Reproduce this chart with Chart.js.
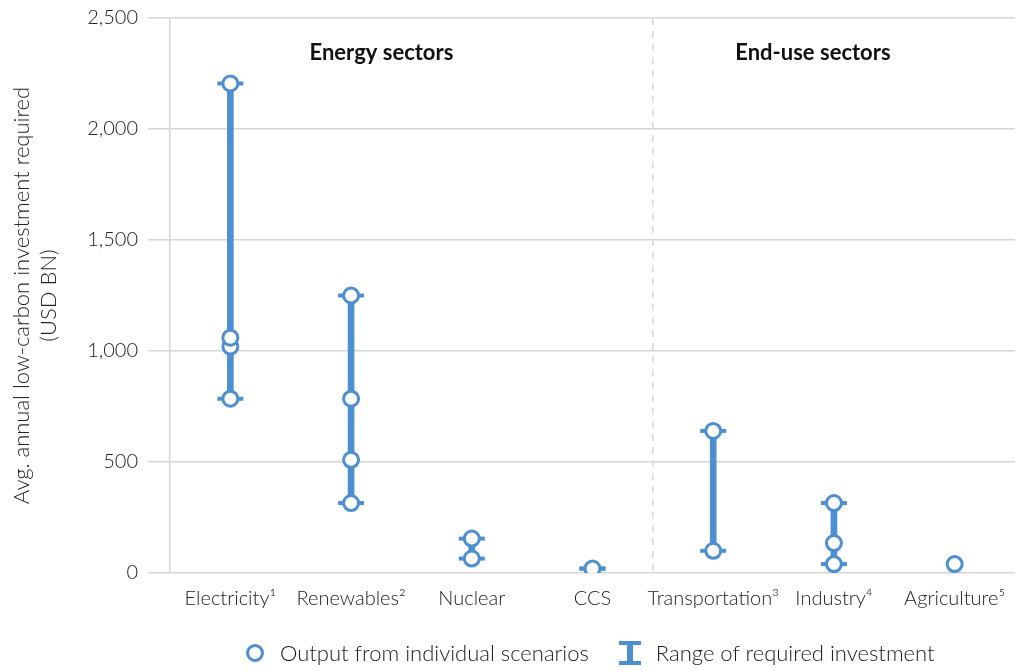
<!DOCTYPE html>
<html>
<head>
<meta charset="utf-8">
<script src="https://cdn.jsdelivr.net/npm/chart.js@4.4.1/dist/chart.umd.min.js"></script>
<style>
  body { margin: 0; background: #fff; }
  #wrap { position: relative; width: 1032px; height: 671px; }
  #legend {
    position: absolute; left: 246px; top: 639px;
    font-family: Lato, "Open Sans", sans-serif; font-weight: 300;
    font-size: 22px; color: #1a1a1a; display: flex; align-items: center;
  }
  .dot { width: 12px; height: 12px; border: 3px solid #4d8fd1; border-radius: 50%; background: #fff; margin-right: 16px; }
  .ibar { position: relative; width: 22px; height: 24px; margin: 0 15px 0 30px; }
  .ibar i { position: absolute; background: #4d8fd1; }
</style>
</head>
<body>
<div id="wrap">
  <canvas id="chart" width="1032" height="671"></canvas>
  <div id="legend">
    <span class="dot"></span><span>Output from individual scenarios</span>
    <span class="ibar"><i style="left:0;top:0;width:22px;height:4px"></i><i style="left:8px;top:0;width:6px;height:24px"></i><i style="left:0;top:20px;width:22px;height:4px"></i></span>
    <span>Range of required investment</span>
  </div>
</div>
<script>
// --- Data ---
const categories = ["Electricity¹", "Renewables²", "Nuclear", "CCS", "Transportation³", "Industry⁴", "Agriculture⁵"];
const rangeLow = [785, 315, 65, 20, 100, 40, null];
const rangeHigh = [2205, 1250, 155, 20, 640, 315, null];
const scenarioValues = [
  [785, 1020, 1060, 2205],
  [315, 510, 785, 1250],
  [65, 155],
  [20],
  [100, 640],
  [40, 135, 315],
  [40],
];
const yTicks = [0, 500, 1000, 1500, 2000, 2500];
const sectionLabels = ["Energy sectors", "End-use sectors"];

const blue = "#4d8fd1";
const fontFamily = "Lato, 'Open Sans', sans-serif";

const scenarioPoints = [];
scenarioValues.forEach((vals, i) => {
  vals.forEach((v) => scenarioPoints.push({ x: categories[i], y: v }));
});

// separator line + section titles
const sectionPlugin = {
  id: "sections",
  beforeDatasetsDraw(chart) {
    const { ctx, chartArea, scales } = chart;
    const x = scales.x;
    const sepX = (x.getPixelForValue(3) + x.getPixelForValue(4)) / 2;
    ctx.save();
    ctx.strokeStyle = "#d8d8d8";
    ctx.lineWidth = 1.5;
    ctx.setLineDash([7, 6]);
    ctx.beginPath();
    ctx.moveTo(sepX, chartArea.top);
    ctx.lineTo(sepX, chartArea.bottom);
    ctx.stroke();
    ctx.setLineDash([]);
    ctx.fillStyle = "#111";
    ctx.font = "bold 22px " + fontFamily;
    ctx.textAlign = "center";
    ctx.textBaseline = "middle";
    const left = (x.getPixelForValue(1) + x.getPixelForValue(2)) / 2 - 30;
    const right = x.getPixelForValue(5) - 21;
    ctx.fillText(sectionLabels[0], left, 53);
    ctx.fillText(sectionLabels[1], right, 53);
    ctx.restore();
  },
};

new Chart(document.getElementById("chart"), {
  type: "bar",
  data: {
    labels: categories,
    datasets: [
      {
        type: "line",
        label: "Output from individual scenarios",
        data: scenarioPoints,
        showLine: false,
        pointRadius: 7.5,
        pointBorderWidth: 3,
        pointBackgroundColor: "#fff",
        pointBorderColor: blue,
        order: 0,
      },
      {
        type: "line",
        label: "low cap",
        data: rangeLow,
        showLine: false,
        pointStyle: "line",
        pointRadius: 13,
        pointBorderWidth: 4,
        pointBorderColor: blue,
        order: 1,
      },
      {
        type: "line",
        label: "high cap",
        data: rangeHigh,
        showLine: false,
        pointStyle: "line",
        pointRadius: 13,
        pointBorderWidth: 4,
        pointBorderColor: blue,
        order: 1,
      },
      {
        label: "Range of required investment",
        data: rangeLow.map((v, i) => (v === null ? null : [v, rangeHigh[i]])),
        backgroundColor: blue,
        barThickness: 6,
        order: 2,
      },
    ],
  },
  options: {
    responsive: false,
    animation: false,
    layout: { padding: { top: 18, right: 0, bottom: 0, left: 0 } },
    plugins: {
      legend: { display: false },
      tooltip: { enabled: false },
    },
    scales: {
      x: {
        grid: { display: false, drawTicks: false },
        border: { display: false },
        ticks: {
          padding: 14,
          color: "#222",
          font: { family: fontFamily, size: 20, weight: 300 },
          maxRotation: 0,
          autoSkip: false,
        },
        afterFit: (scale) => { scale.height = 98; },
      },
      y: {
        min: 0,
        max: 2500,
        afterBuildTicks: (scale) => { scale.ticks = yTicks.map((v) => ({ value: v })); },
        grid: { color: "#d6d6d6", lineWidth: 1.5, tickLength: 22 },
        border: { color: "#d6d6d6", width: 1.5 },
        ticks: {
          padding: 10,
          color: "#222",
          font: { family: fontFamily, size: 20, weight: 300 },
          callback: (v) => v.toLocaleString("en-US"),
        },
        title: {
          display: true,
          text: ["Avg. annual low-carbon investment required", "(USD BN)"],
          color: "#222",
          font: { family: fontFamily, size: 22, weight: 300, lineHeight: 1.25 },
          padding: { top: 8, bottom: 0 },
        },
        afterFit: (scale) => {
          scale.width = 170;
          scale.paddingTop = 0;
          scale.paddingBottom = 0;
        },
      },
    },
  },
  plugins: [sectionPlugin],
});
</script>
</body>
</html>
